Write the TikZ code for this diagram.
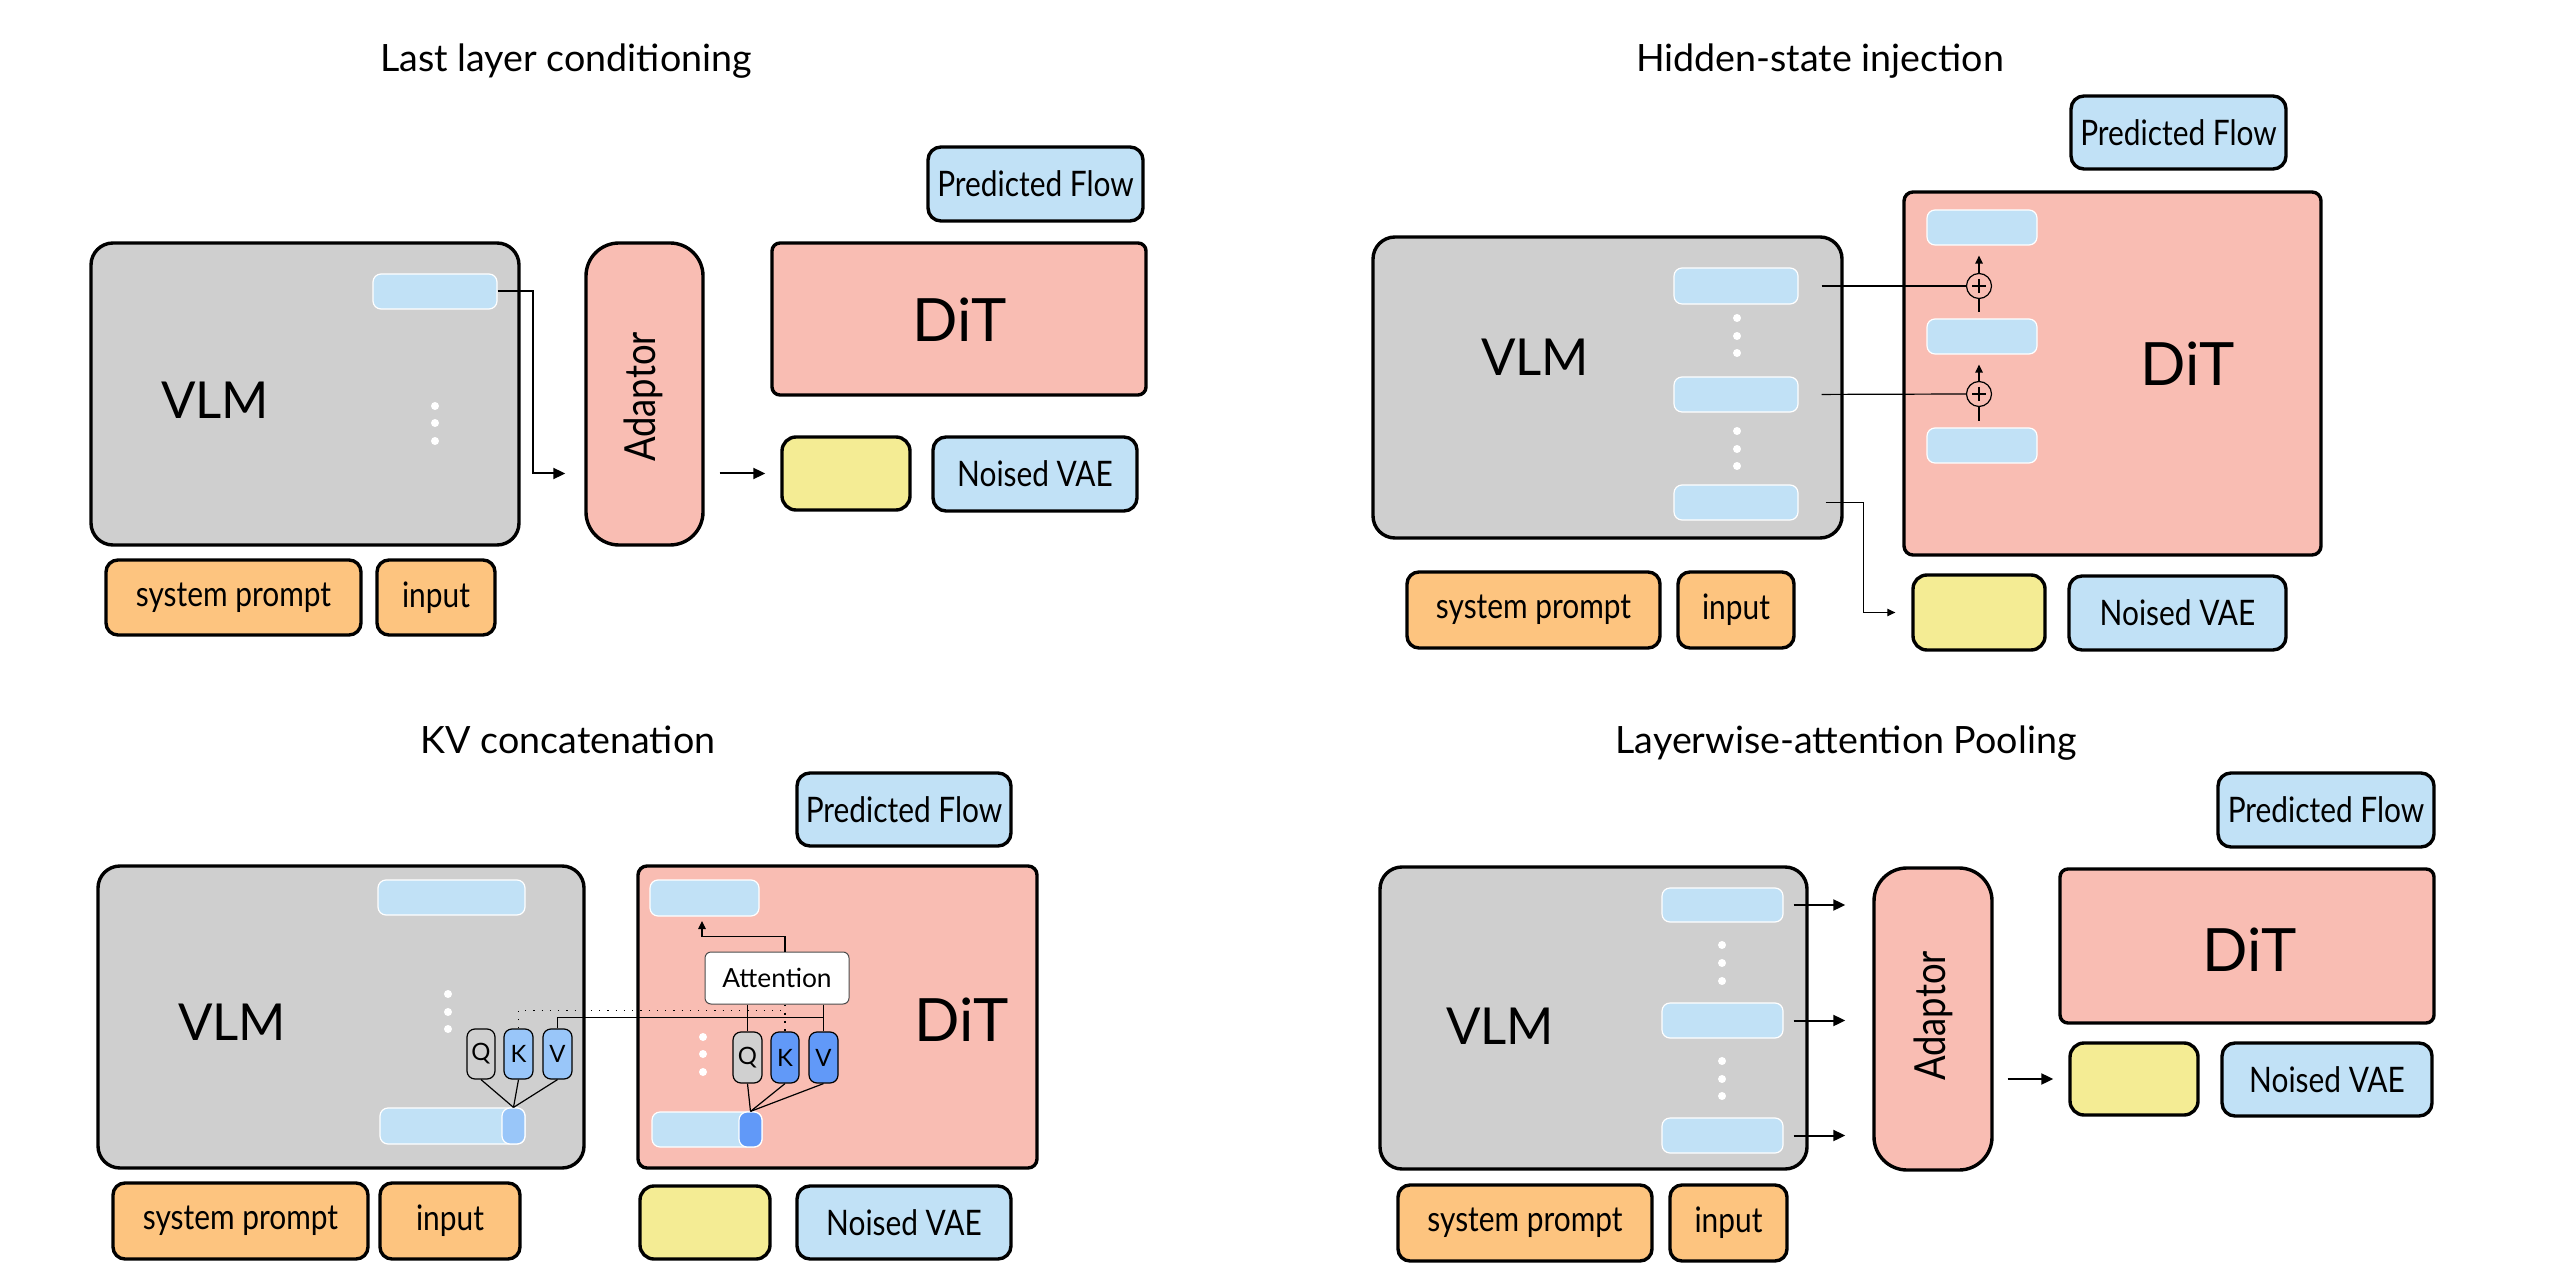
\documentclass[tikz,border=0pt]{standalone}
\usepackage{fontspec}
\usetikzlibrary{arrows.meta,fit,calc}
\newfontfamily\titlefont{Lato}
\newfontfamily\handfont{Lato}[FakeStretch=0.85]
\newfontfamily\handwide{Lato}
\definecolor{vlmgray}{HTML}{CFCFCF}
\definecolor{ditpink}{HTML}{F9BDB3}
\definecolor{lblue}{HTML}{C1E1F6}
\definecolor{lyellow}{HTML}{F4EC94}
\definecolor{lorange}{HTML}{FDC47F}
\definecolor{mblue}{HTML}{99C6F9}
\definecolor{sblue}{HTML}{6199F8}
\definecolor{qgray}{HTML}{D0D0D0}
\tikzset{
  sk/.style={draw=black, line width=0.34mm, inner sep=0pt, rounded corners=#1},
  sk/.default=1.3mm,
  innerbox/.style={fill=lblue, draw=white, line width=0.12mm, rounded corners=0.8mm, inner sep=0pt},
  ttl/.style={font=\titlefont\fontsize{10.7}{13}\selectfont, anchor=base},
  lbl/.style={font=\handfont\fontsize{10}{12}\selectfont, inner sep=0pt},
  bigl/.style={font=\handwide\fontsize{14.5}{17}\selectfont, inner sep=0pt},
  ditl/.style={font=\handwide\fontsize{17}{20}\selectfont, inner sep=0pt},
  adapl/.style={font=\handfont\fontsize{12.2}{14}\selectfont, rotate=90, inner sep=0pt},
  smalll/.style={font=\handwide\fontsize{7.5}{9}\selectfont, inner sep=0pt},
  qkvl/.style={font=\handwide\fontsize{6.8}{8}\selectfont, inner sep=0pt},
  thickarr/.style={line width=0.2mm, -{Triangle[length=1.2mm,width=1.1mm]}},
  thinarr/.style={line width=0.12mm, -{Triangle[length=0.8mm,width=0.75mm]}},
  thinl/.style={line width=0.12mm},
  dotw/.style={circle, fill=white, inner sep=0pt, minimum size=0.8mm},
  qkv/.style={draw=black, line width=0.12mm, rounded corners=0.8mm, inner sep=0pt},
}
\begin{document}
\begin{tikzpicture}[x=0.1mm, y=-0.1mm]
\useasboundingbox (0,0) rectangle (2553,1287);

% ================= Panel 1: Last layer conditioning =================
\node[ttl] (t1) at (566,72) {Last layer conditioning};
\node[sk=2.2mm, fill=vlmgray, fit={(91,243)(519,545)}] (p1vlm) {};
\node[bigl] (p1vlmt) at (215,400) {VLM};
\node[innerbox, fit={(373,274)(497,309)}] (p1h) {};
\node[dotw] (p1d1) at (435,406) {};
\node[dotw] (p1d2) at (435,423) {};
\node[dotw] (p1d3) at (435,441) {};
\node[sk=3.3mm, fill=ditpink, fit={(586,243)(703,545)}] (p1ad) {};
\node[adapl] (p1adt) at (643,397) {Adaptor};
\node[sk=0.8mm, fill=ditpink, fit={(772,243)(1146,395)}] (p1dit) {};
\node[ditl] (p1ditt) at (960,320) {DiT};
\node[sk, fill=lblue, fit={(928,147)(1143,221)}] (p1pf) {};
\node[lbl] (p1pft) at (p1pf.center) {Predicted Flow};
\node[sk=1.4mm, fill=lyellow, fit={(782,437)(910,510)}] (p1y) {};
\node[sk, fill=lblue, fit={(933,437)(1137,511)}] (p1nv) {};
\node[lbl] (p1nvt) at (p1nv.center) {Noised VAE};
\node[sk=1.2mm, fill=lorange, fit={(106,560)(361,635)}] (p1sp) {};
\node[lbl] (p1spt) at (p1sp.center) {system prompt};
\node[sk=1.2mm, fill=lorange, fit={(377,560)(495,635)}] (p1in) {};
\node[lbl] (p1int) at (p1in.center) {input};
\draw[thickarr, shorten >=1.9mm] (p1h.east) -- ++(35,0) |- (p1ad.west |- p1y.west);
\draw[thickarr, shorten <=1.5mm, shorten >=1.5mm] (p1ad.east |- p1y.west) -- (p1y.west);

% ================= Panel 2: Hidden-state injection =================
\node[ttl] (t2) at (1820,72) {Hidden-state injection};
\node[sk=2.2mm, fill=vlmgray, fit={(1373,237)(1842,538)}] (p2vlm) {};
\node[bigl] (p2vlmt) at (1535,357) {VLM};
\node[innerbox, fit={(1674,268)(1798,304)}] (p2h1) {};
\node[innerbox, fit={(1674,377)(1798,412)}] (p2h2) {};
\node[innerbox, fit={(1674,485)(1798,520)}] (p2h3) {};
\node[dotw] (p2a1) at (1737,318) {};
\node[dotw] (p2a2) at (1737,336) {};
\node[dotw] (p2a3) at (1737,353) {};
\node[dotw] (p2b1) at (1737,431) {};
\node[dotw] (p2b2) at (1737,449) {};
\node[dotw] (p2b3) at (1737,466) {};
\node[sk=0.9mm, fill=ditpink, fit={(1904,192)(2321,555)}] (p2dit) {};
\node[ditl] (p2ditt) at (2188,364) {DiT};
\node[innerbox, fit={(1927,210)(2037,245)}] (p2d1) {};
\node[innerbox, fit={(1927,319)(2037,354)}] (p2d2) {};
\node[innerbox, fit={(1927,428)(2037,463)}] (p2d3) {};
\node[circle, draw=black, line width=0.12mm, minimum size=2.5mm, inner sep=0pt] (p2p1) at (1979,286) {};
\node[circle, draw=black, line width=0.12mm, minimum size=2.5mm, inner sep=0pt] (p2p2) at (1979,394) {};
\foreach \c in {p2p1,p2p2}{
  \draw[line width=0.16mm] ($(\c.center)+(-7,0)$) -- ($(\c.center)+(7,0)$);
  \draw[line width=0.16mm] ($(\c.center)+(0,-7)$) -- ($(\c.center)+(0,7)$);
}
\node[sk, fill=lblue, fit={(2071,96)(2286,169)}] (p2pf) {};
\node[lbl] (p2pft) at (p2pf.center) {Predicted Flow};
\node[sk=1.4mm, fill=lyellow, fit={(1913,575)(2045,650)}] (p2y) {};
\node[sk, fill=lblue, fit={(2069,576)(2286,650)}] (p2nv) {};
\node[lbl] (p2nvt) at (p2nv.center) {Noised VAE};
\node[sk=1.2mm, fill=lorange, fit={(1407,572)(1660,648)}] (p2sp) {};
\node[lbl] (p2spt) at (p2sp.center) {system prompt};
\node[sk=1.2mm, fill=lorange, fit={(1678,572)(1794,648)}] (p2in) {};
\node[lbl] (p2int) at (p2in.center) {input};
\draw[thinl, shorten <=2.3mm] (p2h1.east) -- (p2p1.west);
\draw[thinl, shorten <=2.3mm] (p2h2.east) -- (p2p2.west);
\draw[thinarr, shorten >=1mm] (p2p1.north) -- (p2d1.south -| p2p1.north);
\draw[thinl, shorten >=0.6mm] (p2p1.south) -- (p2d2.north -| p2p1.south);
\draw[thinarr, shorten >=1mm] (p2p2.north) -- (p2d2.south -| p2p2.north);
\draw[thinl, shorten >=0.6mm] (p2p2.south) -- (p2d3.north -| p2p2.south);
\draw[thinarr, shorten <=2.7mm, shorten >=1.6mm] (p2h3.east) -- ++(65,0) |- (p2y.west);

% ================= Panel 3: KV concatenation =================
\node[ttl] (t3) at (568,753) {KV concatenation};
\node[sk, fill=lblue, fit={(797,773)(1011,846)}] (p3pf) {};
\node[lbl] (p3pft) at (p3pf.center) {Predicted Flow};
\node[sk=2.2mm, fill=vlmgray, fit={(98,866)(584,1168)}] (p3vlm) {};
\node[bigl] (p3vlmt) at (232,1022) {VLM};
\node[innerbox, fit={(378,880)(525,915)}] (p3vt) {};
\node[innerbox, fit={(380,1108)(525,1144)}] (p3vb) {};
\node[innerbox, fill=mblue, fit={(502,1108)(525,1144)}] (p3vbd) {};
\node[dotw] (p3va) at (448,994) {};
\node[dotw] (p3vc) at (448,1012) {};
\node[dotw] (p3ve) at (448,1029) {};
\node[qkv, fill=qgray, fit={(467,1029)(495,1079)}] (p3vq) {};
\node[qkv, fill=mblue, fit={(504,1029)(533,1079)}] (p3vk) {};
\node[qkv, fill=mblue, fit={(543,1029)(572,1079)}] (p3vv) {};
\node[qkvl] (p3vqt) at (p3vq.center) {Q};
\node[qkvl] (p3vkt) at (p3vk.center) {K};
\node[qkvl] (p3vvt) at (p3vv.center) {V};
\node[sk=0.9mm, fill=ditpink, fit={(638,866)(1037,1168)}] (p3dit) {};
\node[ditl] (p3ditt) at (962,1020) {DiT};
\node[innerbox, fit={(650,880)(759,916)}] (p3dt) {};
\node[innerbox, fit={(652,1112)(762,1147)}] (p3db) {};
\node[innerbox, fill=sblue, fit={(739,1112)(762,1147)}] (p3dbd) {};
\node[dotw] (p3da) at (703,1037) {};
\node[dotw] (p3dc) at (703,1054) {};
\node[dotw] (p3de) at (703,1072) {};
\node[draw=black!70, fill=white, line width=0.1mm, rounded corners=0.6mm, inner sep=0pt, fit={(705,952)(849,1004)}] (p3att) {};
\node[smalll] (p3attt) at (p3att.center) {Attention};
\node[qkv, fill=qgray, fit={(733,1032)(762,1083)}] (p3dq) {};
\node[qkv, fill=sblue, fit={(771,1032)(799,1083)}] (p3dk) {};
\node[qkv, fill=sblue, fit={(809,1032)(838,1083)}] (p3dv) {};
\node[qkvl] (p3dqt) at (p3dq.center) {Q};
\node[qkvl] (p3dkt) at (p3dk.center) {K};
\node[qkvl] (p3dvt) at (p3dv.center) {V};
\node[sk=1.4mm, fill=lyellow, fit={(640,1186)(770,1259)}] (p3y) {};
\node[sk, fill=lblue, fit={(797,1186)(1011,1259)}] (p3nv) {};
\node[lbl] (p3nvt) at (p3nv.center) {Noised VAE};
\node[sk=1.2mm, fill=lorange, fit={(113,1183)(368,1259)}] (p3sp) {};
\node[lbl] (p3spt) at (p3sp.center) {system prompt};
\node[sk=1.2mm, fill=lorange, fit={(380,1183)(520,1259)}] (p3in) {};
\node[lbl] (p3int) at (p3in.center) {input};
\coordinate (p3tip) at (702,921);
% VLM side
\draw[thinl] (p3vq.south) -- (p3vbd.north);
\draw[thinl] (p3vk.south) -- (p3vbd.north);
\draw[thinl] (p3vv.south) -- (p3vbd.north);
\draw[thinl, dotted] (p3vk.north) -- ++(0,-18) -| (p3dk.north);
\draw[thinl] (p3vv.north) -- ++(0,-11) -| (p3dv.north);
% DiT side
\draw[thinl] (p3att.south -| p3dq.north) -- (p3dq.north);
\draw[thinl, dotted] (p3att.south -| p3dk.north) -- (p3dk.north);
\draw[thinl] (p3att.south -| p3dv.north) -- (p3dv.north);
\draw[thinl] (p3dq.south) -- (p3dbd.north);
\draw[thinl] (p3dk.south) -- (p3dbd.north);
\draw[thinl] (p3dv.south) -- (p3dbd.north);
\draw[thinarr] (p3att.north -| p3dk.north) -- ++(0,-15) -| (p3tip);

% ================= Panel 4: Layerwise-attention Pooling =================
\node[ttl] (t4) at (1846,753) {Layerwise-attention Pooling};
\node[sk, fill=lblue, fit={(2218,773)(2434,847)}] (p4pf) {};
\node[lbl] (p4pft) at (p4pf.center) {Predicted Flow};
\node[sk=2.2mm, fill=vlmgray, fit={(1380,867)(1807,1169)}] (p4vlm) {};
\node[bigl] (p4vlmt) at (1500,1026) {VLM};
\node[innerbox, fit={(1662,888)(1783,922)}] (p4h1) {};
\node[innerbox, fit={(1662,1003)(1783,1038)}] (p4h2) {};
\node[innerbox, fit={(1662,1118)(1783,1153)}] (p4h3) {};
\node[dotw] (p4a1) at (1722,945) {};
\node[dotw] (p4a2) at (1722,963) {};
\node[dotw] (p4a3) at (1722,981) {};
\node[dotw] (p4b1) at (1722,1061) {};
\node[dotw] (p4b2) at (1722,1079) {};
\node[dotw] (p4b3) at (1722,1096) {};
\node[sk=3.3mm, fill=ditpink, fit={(1874,868)(1992,1170)}] (p4ad) {};
\node[adapl] (p4adt) at (1933,1016) {Adaptor};
\node[sk=0.8mm, fill=ditpink, fit={(2060,869)(2434,1023)}] (p4dit) {};
\node[ditl] (p4ditt) at (2250,950) {DiT};
\node[sk=1.4mm, fill=lyellow, fit={(2070,1043)(2198,1115)}] (p4y) {};
\node[sk, fill=lblue, fit={(2222,1043)(2432,1116)}] (p4nv) {};
\node[lbl] (p4nvt) at (p4nv.center) {Noised VAE};
\node[sk=1.2mm, fill=lorange, fit={(1398,1185)(1652,1261)}] (p4sp) {};
\node[lbl] (p4spt) at (p4sp.center) {system prompt};
\node[sk=1.2mm, fill=lorange, fit={(1670,1185)(1787,1261)}] (p4in) {};
\node[lbl] (p4int) at (p4in.center) {input};
\draw[thickarr, shorten <=1mm, shorten >=2.7mm] (p4h1.east) -- (p4h1.east -| p4ad.west);
\draw[thickarr, shorten <=1mm, shorten >=2.7mm] (p4h2.east) -- (p4h2.east -| p4ad.west);
\draw[thickarr, shorten <=1mm, shorten >=2.7mm] (p4h3.east) -- (p4h3.east -| p4ad.west);
\draw[thickarr, shorten <=1.4mm, shorten >=1.5mm] (p4ad.east |- p4y.west) -- (p4y.west);
\end{tikzpicture}
\end{document}
